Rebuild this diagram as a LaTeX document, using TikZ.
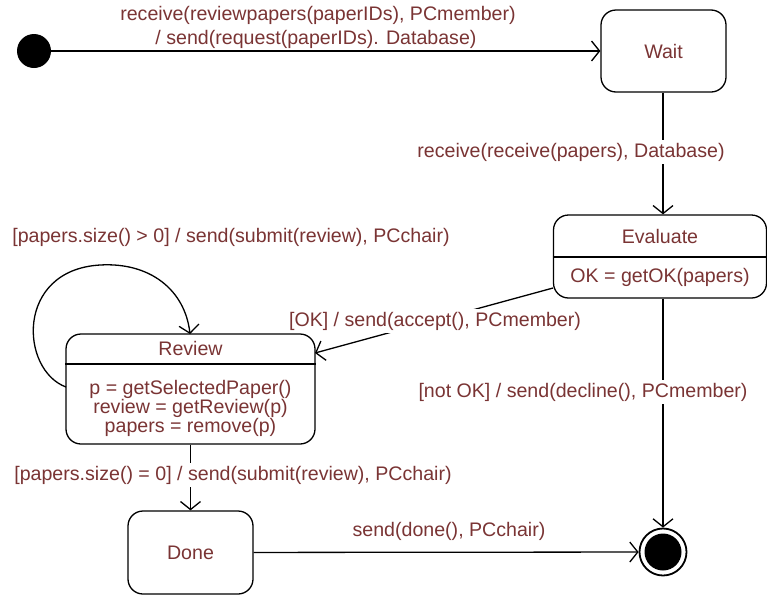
\documentclass[tikz,border=0pt]{standalone}
\usepackage{fontspec}
\setmainfont{Liberation Sans}
\usetikzlibrary{arrows.meta}
\definecolor{txt}{RGB}{122,52,52}
\begin{document}
\begin{tikzpicture}[x=1pt,y=-1pt,
  every node/.style={font=\fontsize{19.6}{19}\selectfont,text=txt},
  lbl/.style={fill=white,inner xsep=1pt,inner ysep=3pt},
  plain/.style={inner sep=0pt},
  statebox/.style={draw,line width=1.3pt,rounded corners=15pt,inner sep=0pt},
  edge/.style={line width=1.3pt,-{Straight Barb[length=8pt,width=20pt,line width=1.3pt]}},
  divider/.style={line width=1.3pt},
]
\useasboundingbox[fill=white] (0,0) rectangle (767,595);

% states
\node[circle,fill=black,minimum size=34pt,inner sep=0pt] (init) at (34,51) {};
\node[statebox,minimum width=125pt,minimum height=82pt] (wait) at (663.5,51) {Wait};
\node[statebox,minimum width=213pt,minimum height=83pt] (eval) at (660,256.5) {};
\node[plain] (evalt) at (660,236) {Evaluate};
\node[plain] (evalb) at (660,277) {OK = getOK(papers)};
\draw[divider] (eval.west |- 0,257) -- (eval.east |- 0,257);

\node[statebox,minimum width=249pt,minimum height=110pt] (rev) at (190.5,389) {};
\node[plain] (revt) at (190.5,348) {Review};
\node[plain,align=center] (revb) at (190.5,408) {p = getSelectedPaper()\\review = getReview(p)\\papers = remove(p)};
\draw[divider] (rev.west |- 0,364) -- (rev.east |- 0,364);

\node[statebox,minimum width=125pt,minimum height=83pt] (done) at (190.5,552.5) {Done};

\node[circle,draw,line width=1.8pt,minimum size=47pt,inner sep=0pt] (fin) at (663,552) {};
\node[circle,fill=black,minimum size=37pt,inner sep=0pt] (finc) at (663,552) {};

% transitions
\draw[edge] (init) -- (wait);
\draw[edge] (wait.south -| 663,0) -- (eval.north -| 663,0);
\coordinate (evo) at (553,288);
\coordinate (rvi) at (315,353);
\draw[edge] (evo) -- (rvi);
\draw[edge] (eval.south -| 663,0) -- (fin);
\coordinate (rvl) at (66,387);
\coordinate (rvtop) at (190,334);
\draw[edge] (rvl) .. controls (20,370) and (15,270) .. (100,265)
  .. controls (150,262) and (185,290) .. (rvtop);
\draw[edge] (rev.south) -- (done.north);
\draw[edge] (done) -- (fin);

% labels
\node[plain] (l1a) at (318,15) {receive(reviewpapers(paperIDs), PCmember)};
\node[plain] (l1b) at (316,39) {/ send(request(paperIDs). Database)};
\node[lbl] (l2) at (571,152) {receive(receive(papers), Database)};
\node[plain] (l3) at (231,237) {[papers.size() > 0] / send(submit(review), PCchair)};
\node[lbl] (l4) at (435,321) {[OK] / send(accept(), PCmember)};
\node[lbl] (l5) at (583,392) {[not OK] / send(decline(), PCmember)};
\node[lbl] (l6) at (233,475) {[papers.size() = 0] / send(submit(review), PCchair)};
\node[plain] (l7) at (449,531) {send(done(), PCchair)};
\end{tikzpicture}
\end{document}
